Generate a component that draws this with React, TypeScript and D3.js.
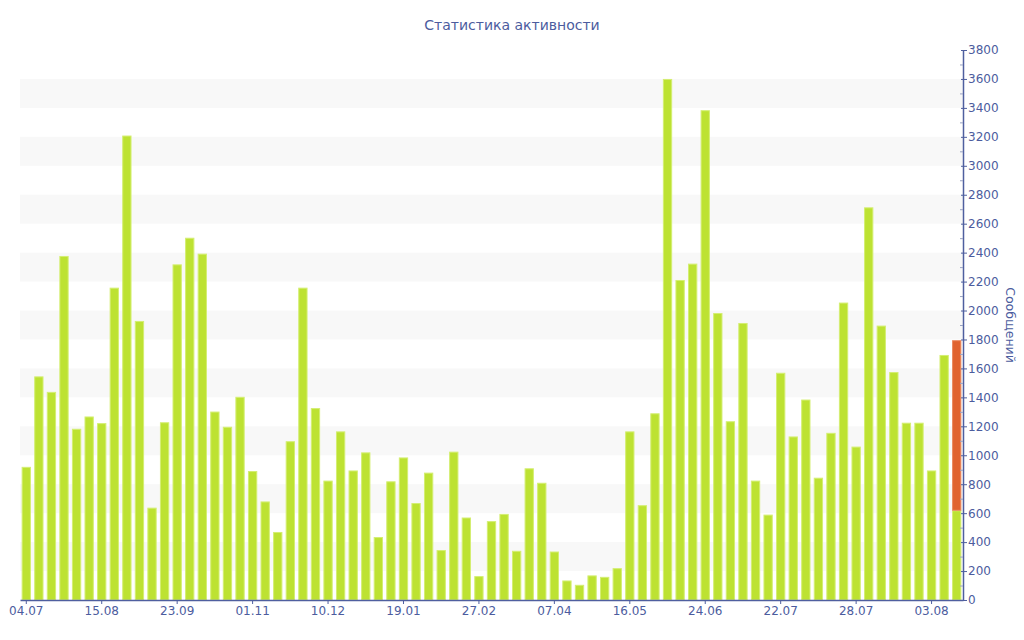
import React, { useEffect, useRef } from 'react';
import * as d3 from 'd3';

// One value per bar, left to right (messages per period)
const activeValues: number[] = [
    920, 1545, 1438, 2377, 1183, 1268, 1222, 2158, 3209, 1928,
    638, 1228, 2319, 2503, 2393, 1302, 1197, 1404, 891, 681,
    470, 1097, 2158, 1326, 825, 1165, 895, 1020, 435, 820,
    985, 670, 880, 345, 1025, 570, 165, 545, 595, 340,
    910, 810, 335, 135, 105, 170, 160, 220, 1165, 655,
    1290, 3600, 2211, 2324, 3384, 1983, 1235, 1914, 825, 590,
    1570, 1130, 1385, 845, 1155, 2055, 1060, 2713, 1896, 1575,
    1225, 1225, 895, 1693, 620,
];
// Stacked on top of the last bar only
const currentValues: number[] = [
    0, 0, 0, 0, 0, 0, 0, 0, 0, 0,
    0, 0, 0, 0, 0, 0, 0, 0, 0, 0,
    0, 0, 0, 0, 0, 0, 0, 0, 0, 0,
    0, 0, 0, 0, 0, 0, 0, 0, 0, 0,
    0, 0, 0, 0, 0, 0, 0, 0, 0, 0,
    0, 0, 0, 0, 0, 0, 0, 0, 0, 0,
    0, 0, 0, 0, 0, 0, 0, 0, 0, 0,
    0, 0, 0, 0, 1175,
];
// Labels shown under every 6th bar
const tickLabels: string[] = [
    '04.07', '15.08', '23.09', '01.11', '10.12', '19.01', '27.02',
    '07.04', '16.05', '24.06', '22.07', '28.07', '03.08',
];
const tickEvery = 6;

const title = 'Статистика активности';
const yTitle = 'Сообщений';

const W = 1024;
const H = 640;
const axisColor = '#4f5f9f';
const textColor = '#4c5c9e';
const font = '"DejaVu Sans", Verdana, sans-serif';

interface Row {
    idx: number;
    active: number;
    current: number;
}

const App: React.FC = () => {
    const svgRef = useRef<SVGSVGElement>(null);

    useEffect(() => {
        if (!svgRef.current) return;
        const svg = d3.select(svgRef.current);
        svg.selectAll('*').remove();

        const margin = { top: 50, right: 61, bottom: 40, left: 20 };
        const left = margin.left;
        const right = W - margin.right;
        const top = margin.top;
        const bottom = H - margin.bottom;

        const rows: Row[] = activeValues.map((v, i) => ({ idx: i, active: v, current: currentValues[i] }));

        const x = d3.scaleBand<number>()
            .domain(rows.map(d => d.idx))
            .range([left, right])
            .paddingInner(0.26)
            .paddingOuter(0.13);

        const y = d3.scaleLinear()
            .domain([0, 3800])
            .range([bottom, top]);

        // alternating background bands
        const bandStarts = d3.range(200, 3800, 400);
        svg.append('g')
            .selectAll('rect')
            .data(bandStarts)
            .join('rect')
            .attr('x', left)
            .attr('width', right - left)
            .attr('y', d => y(d + 200))
            .attr('height', d => y(d) - y(d + 200))
            .attr('fill', '#f8f8f8');

        // bars
        const stack = d3.stack<Row>().keys(['active', 'current']);
        const series = stack(rows);
        const colors: Record<string, [string, string]> = {
            active: ['#bde232', '#d4ee72'],
            current: ['#e0632f', '#ea8a60'],
        };
        svg.append('g')
            .selectAll('g')
            .data(series)
            .join('g')
            .attr('fill', s => colors[s.key][0])
            .attr('stroke', s => colors[s.key][1])
            .attr('stroke-width', 1)
            .selectAll('rect')
            .data(s => s.filter(d => d[1] - d[0] > 0))
            .join('rect')
            .attr('x', d => (x(d.data.idx) ?? 0) + 0.5)
            .attr('width', x.bandwidth() - 1)
            .attr('y', d => y(d[1]) + 0.5)
            .attr('height', d => Math.max(0, y(d[0]) - y(d[1]) - 0.5));

        // x axis
        const xAxis = d3.axisBottom(x)
            .tickValues(tickLabels.map((_, i) => i * tickEvery))
            .tickFormat((d) => tickLabels[(d as number) / tickEvery])
            .tickSize(4)
            .tickPadding(2)
            .tickSizeOuter(0);
        const gx = svg.append('g')
            .attr('transform', `translate(0,${bottom})`)
            .call(xAxis);
        gx.select('.domain').attr('stroke', axisColor).attr('stroke-width', 1.5);
        gx.selectAll('.tick line').attr('stroke', axisColor);
        gx.selectAll('.tick text')
            .attr('fill', textColor)
            .style('font-family', font)
            .style('font-size', '12px');

        // y axis on the right
        const yAxis = d3.axisRight(y)
            .tickValues(d3.range(0, 3801, 200))
            .tickFormat(d3.format('d'))
            .tickSize(4)
            .tickPadding(1)
            .tickSizeOuter(0);
        const gy = svg.append('g')
            .attr('transform', `translate(${right},0)`)
            .call(yAxis);
        gy.select('.domain').attr('stroke', axisColor).attr('stroke-width', 1.5);
        gy.selectAll('.tick line').attr('stroke', axisColor).attr('x1', -2);
        gy.selectAll('.tick text')
            .attr('fill', textColor)
            .style('font-family', font)
            .style('font-size', '12px');

        // minor ticks
        gy.append('g')
            .selectAll('line')
            .data(d3.range(100, 3800, 200))
            .join('line')
            .attr('x1', -3)
            .attr('x2', 0)
            .attr('y1', d => y(d) + 0.5)
            .attr('y2', d => y(d) + 0.5)
            .attr('stroke', '#9aa3c4');

        // titles
        svg.append('text')
            .attr('x', W / 2)
            .attr('y', 30)
            .attr('text-anchor', 'middle')
            .attr('fill', textColor)
            .style('font-family', font)
            .style('font-size', '14px')
            .text(title);

        svg.append('text')
            .attr('transform', `translate(1006,${(top + bottom) / 2}) rotate(90)`)
            .attr('text-anchor', 'middle')
            .attr('fill', textColor)
            .style('font-family', font)
            .style('font-size', '12.5px')
            .text(yTitle);
    }, []);

    return (
        <svg ref={svgRef} width={W} height={H} style={{ position: 'absolute', left: 0, top: 0 }}></svg>
    );
};

export default App;
